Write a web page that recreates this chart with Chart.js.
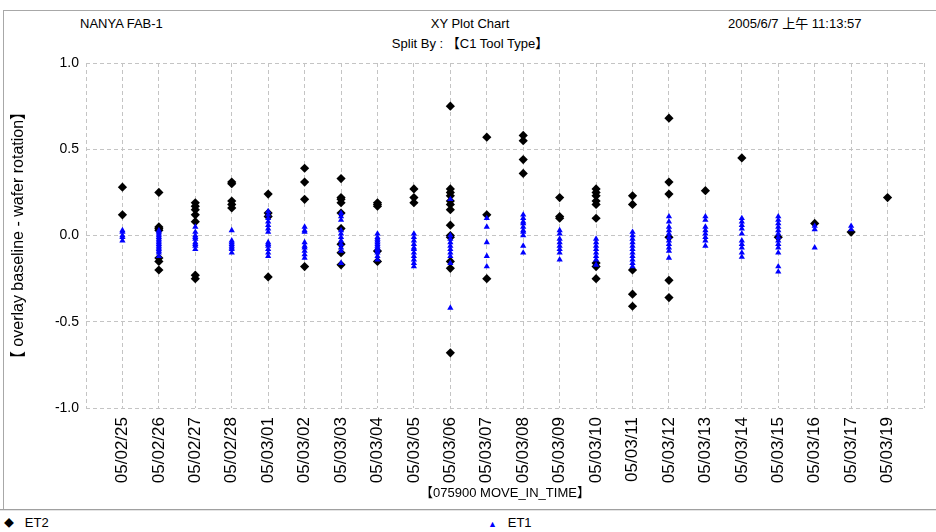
<!DOCTYPE html>
<html>
<head>
<meta charset="utf-8">
<script src="https://cdn.jsdelivr.net/npm/chart.js@4.4.1/dist/chart.umd.min.js"></script>
<style>
  html, body { margin: 0; padding: 0; background: #ffffff; }
  body { width: 936px; height: 532px; position: relative; overflow: hidden;
         font-family: "Liberation Sans", Arial, "Noto Sans CJK SC", sans-serif; font-size: 13px; color: #000; }
  #wrap { position: absolute; left: 0; top: 0; width: 936px; height: 532px; }
  .t { position: absolute; white-space: pre; line-height: 16px; }
  .frame-top { position: absolute; left: 3px; top: 10px; width: 933px; height: 1px; background: #a8a8a8; }
  .frame-left { position: absolute; left: 3px; top: 10px; width: 1px; height: 500px; background: #a8a8a8; }
  .sep { position: absolute; left: 0; top: 509px; width: 936px; height: 1px; background: #a0a0a0; }
  .sep2 { position: absolute; left: 0; top: 510px; width: 936px; height: 1px; background: #e4e4e4; }
</style>
</head>
<body>
<div class="frame-top"></div>
<div class="frame-left"></div>
<div class="sep"></div>
<div class="sep2"></div>
<div class="t" style="left:80px; top:16px;">NANYA FAB-1</div>
<div class="t" style="left:370px; width:200px; top:16px; text-align:center;">XY Plot Chart</div>
<div class="t" style="left:350px; width:240px; top:36px; text-align:center;">Split By : 【C1 Tool Type】</div>
<div class="t" style="left:728px; top:16px;">2005/6/7 上午 11:13:57</div>
<div class="t" style="left:4px; top:515px;"><span style="font-size:10px;">◆</span>   ET2</div>
<div class="t" style="left:488px; top:515px;"><span style="font-size:9px;color:#0000ff;">▲</span>   ET1</div>
<div id="wrap"><canvas id="c" width="936" height="532"></canvas></div>
<script>
// ---- data ----
const categories = ["05/02/25","05/02/26","05/02/27","05/02/28","05/03/01","05/03/02","05/03/03","05/03/04","05/03/05","05/03/06","05/03/07","05/03/08","05/03/09","05/03/10","05/03/11","05/03/12","05/03/13","05/03/14","05/03/15","05/03/16","05/03/17","05/03/19"];

const et2Values = [
  [0.28, 0.12],
  [0.25, 0.05, 0.04, 0.03, -0.13, -0.15, -0.20],
  [0.19, 0.17, 0.15, 0.12, 0.08, -0.23, -0.25],
  [0.31, 0.30, 0.20, 0.18, 0.16],
  [0.24, 0.13, 0.11, -0.24],
  [0.39, 0.31, 0.21, -0.18],
  [0.33, 0.22, 0.21, 0.19, 0.13, 0.04, -0.05, -0.10, -0.17],
  [0.19, 0.18, 0.17, -0.09, -0.15],
  [0.27, 0.22, 0.19],
  [0.75, 0.27, 0.25, 0.23, 0.20, 0.18, 0.15, 0.06, 0.00, -0.01, -0.15, -0.19, -0.68],
  [0.57, 0.12, -0.25],
  [0.58, 0.55, 0.44, 0.36],
  [0.22, 0.11, 0.10],
  [0.27, 0.25, 0.23, 0.20, 0.18, 0.10, -0.16, -0.18, -0.25],
  [0.23, 0.18, -0.20, -0.34, -0.41],
  [0.68, 0.31, 0.24, -0.01, -0.26, -0.36],
  [0.26],
  [0.45],
  [-0.01],
  [0.07],
  [0.02],
  [0.22]
];

const et1Values = [
  [0.03, 0.02, 0.00, -0.01, -0.03],
  [0.03, 0.02, 0.01, 0.00, -0.01, -0.02, -0.03, -0.04, -0.05, -0.06, -0.07, -0.08, -0.09, -0.10, -0.12],
  [0.05, 0.02, 0.00, -0.01, -0.02, -0.04, -0.05, -0.06, -0.08],
  [0.03, -0.03, -0.04, -0.05, -0.06, -0.07, -0.08, -0.10],
  [0.14, 0.12, 0.10, 0.08, 0.06, 0.04, 0.02, -0.04, -0.05, -0.06, -0.08, -0.10, -0.12],
  [0.05, 0.03, 0.02, -0.04, -0.06, -0.07, -0.09, -0.11, -0.13],
  [0.13, 0.11, 0.09, 0.03, 0.01, -0.01, -0.03, -0.05, -0.07, -0.09, -0.16],
  [0.01, -0.01, -0.02, -0.03, -0.04, -0.05, -0.06, -0.07, -0.08, -0.09, -0.10, -0.12, -0.14],
  [0.01, -0.01, -0.03, -0.05, -0.07, -0.08, -0.10, -0.12, -0.14, -0.16, -0.18],
  [0.21, 0.00, -0.02, -0.04, -0.06, -0.08, -0.10, -0.12, -0.16, -0.42],
  [0.10, 0.05, -0.04, -0.12, -0.18],
  [0.12, 0.10, 0.08, 0.07, 0.05, 0.03, 0.02, 0.00, -0.06, -0.10],
  [0.03, 0.01, -0.02, -0.04, -0.06, -0.08, -0.10, -0.14],
  [-0.02, -0.04, -0.06, -0.08, -0.10, -0.12, -0.14, -0.17],
  [0.02, 0.00, -0.02, -0.04, -0.06, -0.08, -0.10, -0.12, -0.14, -0.16, -0.18],
  [0.11, 0.08, 0.05, 0.03, 0.01, -0.01, -0.03, -0.05, -0.07, -0.09, -0.13],
  [0.11, 0.09, 0.05, 0.03, 0.01, -0.01, -0.03, -0.06],
  [0.10, 0.08, 0.06, 0.04, 0.01, -0.03, -0.05, -0.07, -0.10, -0.125],
  [0.11, 0.09, 0.07, 0.05, 0.03, 0.01, -0.01, -0.03, -0.05, -0.07, -0.10, -0.18, -0.21],
  [0.055, 0.035, -0.07],
  [0.055, 0.035],
  []
];

const yTicks = [-1.0, -0.5, 0.0, 0.5, 1.0];
const seriesNames = ["ET2", "ET1"];
const yTitle = "【 overlay baseline - wafer rotation】";
const xTitle = "【075900 MOVE_IN_TIME】";

// ---- build scatter points (x = category position 1..n) ----
function toPoints(values) {
  const pts = [];
  values.forEach((list, i) => list.forEach(v => pts.push({ x: i + 1, y: v })));
  return pts;
}

const FONT = "'Liberation Sans', Arial, 'Noto Sans CJK SC', sans-serif";
const GRID = '#c4c4c4';

new Chart(document.getElementById('c'), {
  type: 'scatter',
  data: {
    datasets: [
      { label: seriesNames[0], data: toPoints(et2Values), order: 1,
        pointStyle: 'rectRot', radius: 4.6, hoverRadius: 4.6,
        backgroundColor: '#000000', borderColor: '#000000', borderWidth: 0 },
      { label: seriesNames[1], data: toPoints(et1Values), order: 0,
        pointStyle: 'triangle', radius: 3.6, hoverRadius: 3.6,
        backgroundColor: '#0000ff', borderColor: '#0000ff', borderWidth: 0 }
    ]
  },
  options: {
    responsive: false,
    animation: false,
    events: [],
    layout: { padding: { left: 7, right: 12, top: 63, bottom: 29 } },
    plugins: { legend: { display: false }, title: { display: false }, tooltip: { enabled: false } },
    scales: {
      x: {
        type: 'linear', min: 0, max: categories.length + 1,
        afterBuildTicks: s => { s.ticks = []; for (let i = 0; i <= categories.length + 1; i++) s.ticks.push({ value: i }); },
        ticks: {
          autoSkip: false, maxRotation: 90, minRotation: 90, padding: 9,
          color: '#000', font: { family: FONT, size: 17 },
          callback: v => (v >= 1 && v <= categories.length) ? categories[v - 1] : ''
        },
        grid: { color: GRID, lineWidth: 1, drawTicks: false },
        border: { display: false, dash: [4, 3] },
        title: { display: true, text: xTitle, color: '#000', font: { family: FONT, size: 13 }, padding: { top: 0, bottom: 2 } },
        afterFit: s => { s.height = 95; s.paddingLeft = 0; s.paddingRight = 0; }
      },
      y: {
        type: 'linear', min: -1, max: 1,
        afterBuildTicks: s => { s.ticks = yTicks.map(v => ({ value: v })); },
        ticks: { padding: 7, color: '#000', font: { family: FONT, size: 14 }, callback: v => Number(v).toFixed(1) },
        grid: { color: GRID, lineWidth: 1, drawTicks: false },
        border: { display: false, dash: [4, 3] },
        title: { display: true, text: yTitle, color: '#000', font: { family: FONT, size: 16 }, padding: { top: 2, bottom: 0 } },
        afterFit: s => { s.width = 79; s.paddingTop = 0; s.paddingBottom = 0; }
      }
    }
  }
});
</script>
</body>
</html>
